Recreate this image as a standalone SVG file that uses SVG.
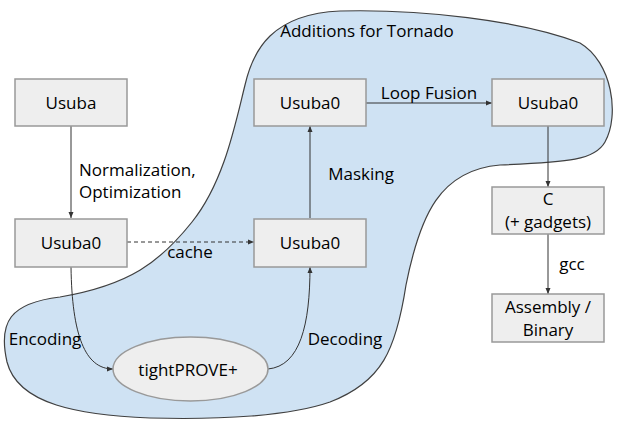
<svg xmlns="http://www.w3.org/2000/svg" width="618" height="436" viewBox="0 0 618 436">
<style>
text{font-family:"Open Sans","Noto Sans","DejaVu Sans",sans-serif;font-size:17px;fill:#000;}
.c{text-anchor:middle;}
.box{fill:#eeeeee;stroke:#999999;stroke-width:1.5;}
.edge{fill:none;stroke:#333333;stroke-width:1;}
</style>
<defs>
<marker id="ah" markerUnits="userSpaceOnUse" markerWidth="7" markerHeight="6" refX="6" refY="3" orient="auto">
<path d="M0,0.5 L6,3 L0,5.5 z" fill="#333333"/>
</marker>
</defs>
<g id="region">
<path d="M340,11 C420,9 520,20 580,43 C612,62 620,115 605,142 C595,160 570,162 500,165 C440,170 420,215 406,285 C396,350 382,382 330,402 C290,416 220,420 150,418 C80,415 18,405 7,362 C-2,322 10,303 60,297 C130,285 160,262 192,222 C224,182 235,125 245,85 C253,50 272,14 340,11 Z" fill="#cfe2f3" stroke="#404040" stroke-width="1.2"/>
<text x="367" y="37" class="c">Additions for Tornado</text>
</g>
<g id="connectors">
<line class="edge" x1="71" y1="126" x2="71" y2="218" marker-end="url(#ah)"/>
<text x="79" y="176">Normalization,</text>
<text x="79" y="198">Optimization</text>
<line class="edge" x1="127" y1="242" x2="254" y2="242" stroke-dasharray="4,3" marker-end="url(#ah)"/>
<text x="190" y="258" class="c">cache</text>
<line class="edge" x1="310" y1="218" x2="310" y2="126" marker-end="url(#ah)"/>
<text x="361" y="180" class="c">Masking</text>
<line class="edge" x1="366" y1="103" x2="492" y2="103" marker-end="url(#ah)"/>
<text x="429" y="99" class="c">Loop Fusion</text>
<line class="edge" x1="548" y1="126" x2="548" y2="187" marker-end="url(#ah)"/>
<line class="edge" x1="548" y1="234" x2="548" y2="294" marker-end="url(#ah)"/>
<text x="572" y="270" class="c">gcc</text>
<path class="edge" d="M71,267 C72,335 85,369 113,369" marker-end="url(#ah)"/>
<text x="45" y="345" class="c">Encoding</text>
<path class="edge" d="M268,369 C300,366 310,325 310,267" marker-end="url(#ah)"/>
<text x="345" y="345" class="c">Decoding</text>
</g>
<g id="usuba">
<rect class="box" x="15" y="79" width="112" height="47"/>
<text x="71" y="109" class="c">Usuba</text>
</g>
<g id="usuba0-left">
<rect class="box" x="15" y="219" width="112" height="48"/>
<text x="71" y="249" class="c">Usuba0</text>
</g>
<g id="usuba0-top">
<rect class="box" x="254" y="79" width="112" height="47"/>
<text x="310" y="109" class="c">Usuba0</text>
</g>
<g id="usuba0-mid">
<rect class="box" x="254" y="219" width="112" height="48"/>
<text x="310" y="249" class="c">Usuba0</text>
</g>
<g id="usuba0-right">
<rect class="box" x="492" y="79" width="112" height="47"/>
<text x="548" y="109" class="c">Usuba0</text>
</g>
<g id="c-gadgets">
<rect class="box" x="492" y="187" width="112" height="47"/>
<text x="548" y="205" class="c">C</text>
<text x="548" y="228" class="c">(+ gadgets)</text>
</g>
<g id="assembly">
<rect class="box" x="492" y="294" width="112" height="48"/>
<text x="548" y="313" class="c">Assembly /</text>
<text x="548" y="336" class="c">Binary</text>
</g>
<g id="tightprove">
<ellipse cx="190.5" cy="369" rx="77.5" ry="32" fill="#eeeeee" stroke="#999999" stroke-width="1.5"/>
<text x="188" y="376" class="c">tightPROVE+</text>
</g>
</svg>
